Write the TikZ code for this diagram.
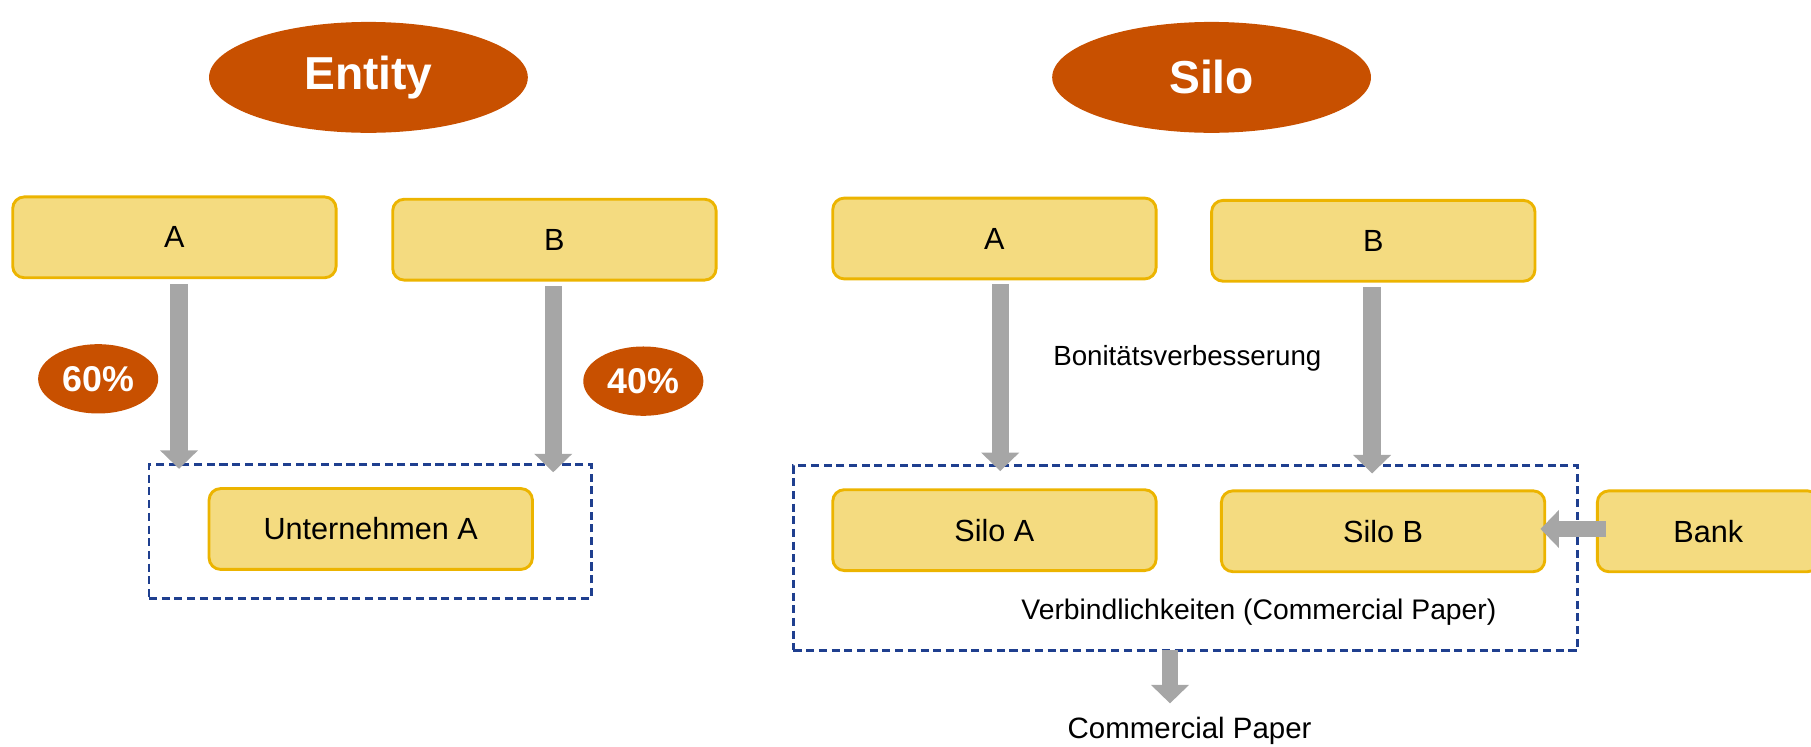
\documentclass[tikz,border=0pt]{standalone}
\usepackage{fontspec}
\setmainfont{Liberation Sans}
\usetikzlibrary{arrows.meta,shapes.geometric}
\definecolor{boxfill}{RGB}{244,219,128}
\definecolor{boxline}{RGB}{236,180,0}
\definecolor{burnt}{RGB}{200,80,0}
\definecolor{garrowc}{RGB}{166,166,166}
\definecolor{dashblue}{RGB}{31,63,143}
\tikzset{
  ybox/.style={draw=boxline, fill=boxfill, line width=2.5pt, rounded corners=10pt,
    minimum width=280pt, minimum height=70pt, inner sep=0pt,
    font=\fontsize{26.5}{30}\selectfont},
  title/.style={ellipse, fill=burnt, minimum width=276pt, minimum height=96pt, inner sep=0pt,
    text=white, font=\fontsize{40}{46}\selectfont\bfseries},
  pct/.style={ellipse, fill=burnt, minimum width=104pt, minimum height=60pt, inner sep=0pt,
    text=white, font=\fontsize{31}{36}\selectfont\bfseries},
  dbox/.style={draw=dashblue, line width=2.2pt, dash pattern=on 7pt off 4pt, inner sep=0pt},
  plain/.style={inner sep=0pt, font=\fontsize{24.5}{30}\selectfont},
  garrow/.style={draw=garrowc, line width=15pt, -{Triangle[width=32pt,length=16pt]}},
}
\begin{document}
\begin{tikzpicture}[x=1pt,y=1pt]
\useasboundingbox (0,0) rectangle (1568,646);
% left
\node[title] (ent) at (319,579) {Entity};
\node[ybox] (lA) at (151,440.5) {A};
\node[ybox] (lB) at (480,438.5) {B};
\node[pct] (p60) at (85,318) {60\%};
\node[pct] (p40) at (557,316) {40\%};
\node[dbox, minimum width=383pt, minimum height=116pt] (ldash) at (320.5,186) {};
\node[ybox] (lU) at (321,188) {Unternehmen A};
\draw[garrow, shorten <=4pt, shorten >=-5pt] ([xshift=4pt]lA.south) -- ([xshift=4pt]lA.south |- ldash.north);
\draw[garrow, shorten <=4pt, shorten >=-8pt] ([xshift=-1pt]lB.south) -- ([xshift=-1pt]lB.south |- ldash.north);
% right
\node[title] (silo) at (1049,579) {Silo};
\node[ybox] (rA) at (861,439.5) {A};
\node[ybox] (rB) at (1189,437.5) {B};
\node[plain, font=\fontsize{24}{30}\selectfont] (bon) at (1028,336) {Bonitätsverbesserung};
\node[dbox, minimum width=679pt, minimum height=160pt] (rdash) at (1026.5,163) {};
\node[ybox] (sA) at (861,187) {Silo A};
\node[ybox] (sB) at (1197.5,186) {Silo B};
\node[ybox, minimum width=192pt] (bank) at (1479,186) {Bank};
\draw[garrow, shorten <=3pt, shorten >=-6pt] ([xshift=5pt]rA.south) -- ([xshift=5pt]rA.south |- rdash.north);
\draw[garrow, shorten <=4pt, shorten >=-8pt] ([xshift=-1pt]rB.south) -- ([xshift=-1pt]rB.south |- rdash.north);
\draw[garrow, line width=14pt, shorten <=-9pt, shorten >=-5pt] ([yshift=2pt]bank.west) -- ([yshift=2pt]bank.west -| sB.east);
\node[plain] (verb) at (1090,116) {Verbindlichkeiten (Commercial Paper)};
\node[plain, font=\fontsize{25.5}{30}\selectfont] (cp) at (1030,13) {Commercial Paper};
\coordinate (cpt) at (1013,37);
\draw[garrow, line width=14pt, shorten <=-1pt] (rdash.south -| cpt) -- (cpt);
\end{tikzpicture}
\end{document}
